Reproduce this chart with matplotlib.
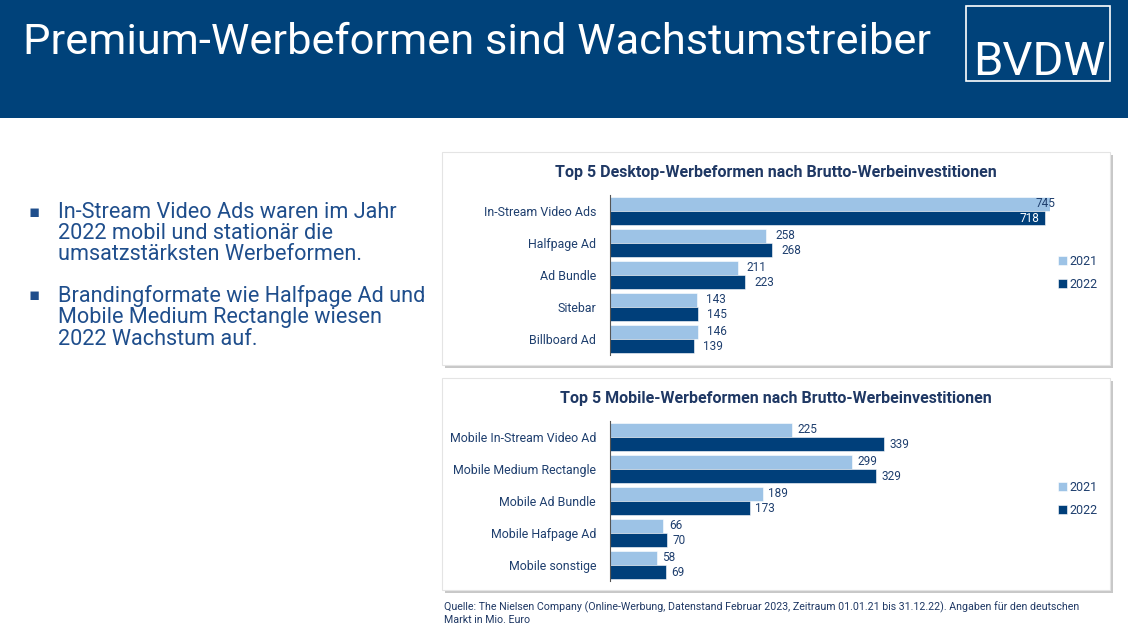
import numpy as np
import matplotlib
matplotlib.use('Agg')
from matplotlib import pyplot as plt
from matplotlib.patches import Rectangle

desk_cats = ['In-Stream Video Ads', 'Halfpage Ad', 'Ad Bundle', 'Sitebar', 'Billboard Ad']
desk_2021 = [745, 258, 211, 143, 146]
desk_2022 = [718, 268, 223, 145, 139]

mob_cats = ['Mobile In-Stream Video Ad', 'Mobile Medium Rectangle', 'Mobile Ad Bundle',
            'Mobile Hafpage Ad', 'Mobile sonstige']
mob_2021 = [225, 299, 189, 66, 58]
mob_2022 = [339, 329, 173, 70, 69]

years = ['2021', '2022']

W, H = 1128, 627
NAVY = '#00427a'
LIGHT = '#9dc3e6'
DARK = '#003f7a'
TXT = '#1f3f6e'
FONT = ['Roboto', 'DejaVu Sans']

plt.rcParams['font.family'] = FONT

fig = plt.figure(figsize=(W / 100, H / 100), dpi=100)


def fx(x):
    return x / W


def fy(y):
    return 1 - y / H


# header band
fig.patches.append(Rectangle((0, fy(118)), 1, 118 / H, transform=fig.transFigure,
                             facecolor=NAVY, edgecolor='none', zorder=-5))
fig.text(fx(23), fy(43), 'Premium-Werbeformen sind Wachstumstreiber', color='white',
         fontsize=31.2, va='center', ha='left')
fig.patches.append(Rectangle((fx(966), fy(81)), 144 / W, 75 / H, transform=fig.transFigure,
                             facecolor='none', edgecolor='white', lw=1.2, zorder=-4))
fig.text(fx(1039), fy(62), 'BVDW', color='white', fontsize=34, va='center', ha='center')

# bullets
bullets = [(212, ['In-Stream Video Ads waren im Jahr', '2022 mobil und stationär die',
                  'umsatzstärksten Werbeformen.']),
           (296, ['Brandingformate wie Halfpage Ad und', 'Mobile Medium Rectangle wiesen',
                  '2022 Wachstum auf.'])]
for y0, lines in bullets:
    fig.text(fx(28), fy(y0), '\u25aa', color='#1f4e8c', fontsize=12, va='center')
    for i, line in enumerate(lines):
        fig.text(fx(58), fy(y0 + i * 21.5), line, color='#1f4e8c', fontsize=15.6,
                 va='center')


def panel(top, bottom, title):
    fig.patches.append(Rectangle((fx(445), fy(bottom + 3)), 668 / W, (bottom - top) / H,
                                 transform=fig.transFigure, facecolor='#c8c8c8',
                                 edgecolor='none', zorder=-3))
    fig.patches.append(Rectangle((fx(442), fy(bottom)), 668 / W, (bottom - top) / H,
                                 transform=fig.transFigure, facecolor='white',
                                 edgecolor='#e4e4e4', lw=0.8, zorder=-2))
    fig.text(fx(776), fy(top + 20), title, color='#1f3864', fontsize=11.5, weight='bold',
             ha='center', va='center')


def chart(top, cats, v1, v2, scale, legend_y):
    left, width = 610, 440
    ax = fig.add_axes([fx(left), fy(top + 160), width / W, 160 / H])
    ax.patch.set_alpha(0)
    y = np.arange(len(cats))
    h = 0.44
    ax.barh(y - h / 2, v1, height=h, color=LIGHT, edgecolor='white', lw=0.4, label=years[0])
    ax.barh(y + h / 2, v2, height=h, color=DARK, edgecolor='white', lw=0.4, label=years[1])
    ax.set_xlim(0, width / scale)
    ax.set_ylim(len(cats) - 0.5, -0.5)
    ax.set_yticks(y, cats)
    ax.tick_params(axis='y', length=0, pad=10, labelsize=8.9, labelcolor=TXT)
    ax.set_xticks([])
    for s in ['top', 'right', 'bottom']:
        ax.spines[s].set_visible(False)
    ax.spines['left'].set_color('#555555')
    ax.spines['left'].set_linewidth(0.8)
    vmax = max(v1 + v2)
    for vals, off, inside_col in [(v1, -h / 2, TXT), (v2, h / 2, 'white')]:
        for yi, v in zip(y, vals):
            if v > 0.6 * vmax and vmax > 500:
                ax.text(v - vmax * 0.012, yi + off, str(v), ha='right', va='center',
                        fontsize=8.5, color=inside_col)
            else:
                ax.text(v + vmax * 0.02, yi + off, str(v), ha='left', va='center',
                        fontsize=8.5, color=TXT)
    leg = ax.legend(loc='center left', bbox_to_anchor=((1058 - left) / width, legend_y),
                    frameon=False, handlelength=0.7, handleheight=0.7, handletextpad=0.2,
                    labelspacing=0.8, borderpad=0, borderaxespad=0,
                    prop={'size': 9})
    for t in leg.get_texts():
        t.set_color(TXT)
    return ax


panel(152, 365, 'Top 5 Desktop-Werbeformen nach Brutto-Werbeinvestitionen')
chart(195, desk_cats, desk_2021, desk_2022, (1061 - 610) / 745, (355 - 273) / 160)
panel(378, 590, 'Top 5 Mobile-Werbeformen nach Brutto-Werbeinvestitionen')
chart(421, mob_cats, mob_2021, mob_2022, (884 - 610) / 339, (581 - 499) / 160)

fig.text(fx(444), fy(607), 'Quelle: The Nielsen Company (Online-Werbung, Datenstand Februar 2023, '
         'Zeitraum 01.01.21 bis 31.12.22). Angaben für den deutschen', fontsize=7.7,
         color='#1f3864', va='center')
fig.text(fx(444), fy(620), 'Markt in Mio. Euro', fontsize=7.7, color='#1f3864', va='center')

fig.savefig('out.png', dpi=100)
